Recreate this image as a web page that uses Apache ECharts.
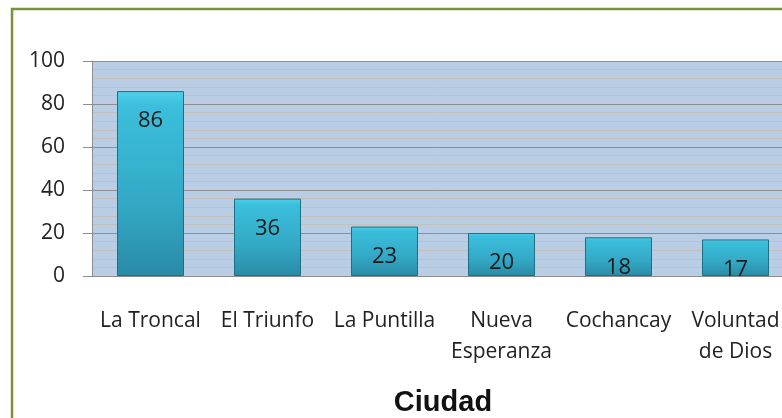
<!DOCTYPE html>
<html>
<head>
<meta charset="utf-8">
<script src="https://cdn.jsdelivr.net/npm/echarts@6/dist/echarts.min.js"></script>
<style>
  html, body { margin: 0; padding: 0; background: #fff; }
  #main { width: 782px; height: 418px; }
</style>
</head>
<body>
<div id="main"></div>
<script>
// datos del gráfico
var ciudades = ['La Troncal', 'El Triunfo', 'La Puntilla', 'Nueva\nEsperanza', 'Cochancay', 'Voluntad\nde Dios'];
var valores = [86, 36, 23, 20, 18, 17];
var ejeNombre = 'Ciudad';

var chart = echarts.init(document.getElementById('main'));

chart.setOption({
  backgroundColor: '#ffffff',
  animation: false,
  // marco verde exterior
  graphic: [{
    type: 'rect',
    shape: { x: 12, y: 9, width: 820, height: 480 },
    style: { fill: 'none', stroke: '#77933c', lineWidth: 2.5 },
    z: 100
  }],
  grid: {
    left: 92, top: 61, width: 702, height: 215,
    outerBoundsMode: 'none',
    containLabel: false,
    show: true,
    backgroundColor: '#b9cde5',
    borderWidth: 0
  },
  xAxis: {
    type: 'category',
    data: ciudades,
    name: ejeNombre,
    nameLocation: 'middle',
    nameGap: 112,
    nameTextStyle: { fontFamily: 'Liberation Sans', fontWeight: 'bold', fontSize: 29, color: '#111' },
    axisLine: { lineStyle: { color: '#8c8c8c', width: 1 } },
    axisTick: { show: false },
    axisLabel: {
      margin: 30, fontFamily: 'Open Sans', fontSize: 21, color: '#222', lineHeight: 31, interval: 0
    }
  },
  yAxis: {
    type: 'value',
    min: 0, max: 100, interval: 20,
    axisLine: { show: true, lineStyle: { color: '#8c8c8c' } },
    axisTick: { show: true, length: 9, lineStyle: { color: '#8c8c8c' } },
    axisLabel: { margin: 27, fontFamily: 'Open Sans', fontSize: 21, color: '#222' },
    splitLine: { lineStyle: { color: '#8d8d8d', width: 1 } },
    minorTick: { show: false, splitNumber: 5 },
    minorSplitLine: { show: true, lineStyle: { color: '#c6c0bc', width: 1 } }
  },
  series: [{
    type: 'bar',
    data: valores,
    barWidth: 67,
    itemStyle: {
      color: new echarts.graphic.LinearGradient(0, 0, 0, 1, [
        { offset: 0, color: '#4fd0ea' },
        { offset: 0.08, color: '#3bbfdc' },
        { offset: 0.6, color: '#33a9c6' },
        { offset: 1, color: '#2a8ba6' }
      ]),
      borderColor: '#1f6f82',
      borderWidth: 1
    },
    label: {
      show: true,
      position: 'insideTop',
      distance: 19,
      fontFamily: 'Open Sans',
      fontSize: 22,
      color: '#1a1a1a'
    }
  }]
});
</script>
</body>
</html>
